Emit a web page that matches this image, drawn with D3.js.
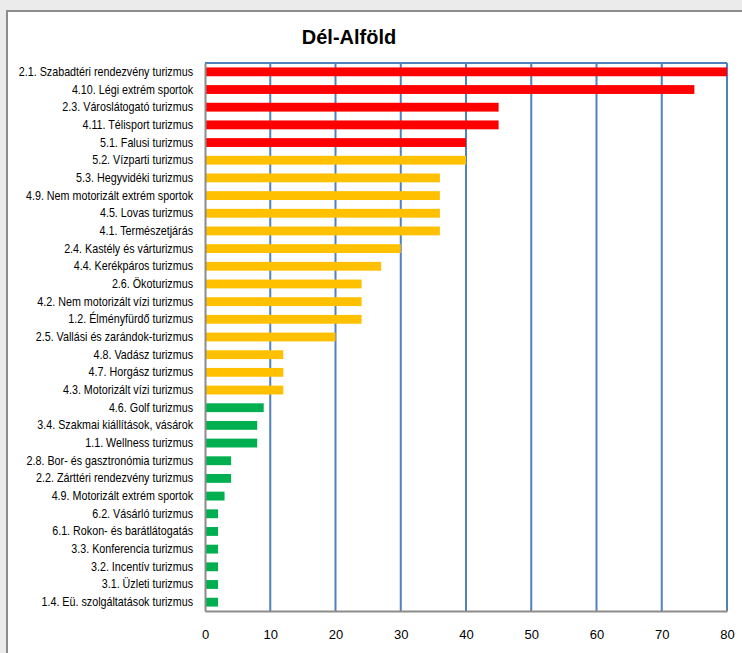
<!DOCTYPE html>
<html>
<head>
<meta charset="utf-8">
<title>Dél-Alföld</title>
<script src="https://cdn.jsdelivr.net/npm/d3@7"></script>
<style>
  html, body { margin: 0; padding: 0; background: #ebebeb; }
  svg { display: block; }
</style>
</head>
<body>
<div id="chart"></div>
<script>
const title = "Dél-Alföld"

const categories = [
  "2.1. Szabadtéri rendezvény turizmus",
  "4.10. Légi extrém sportok",
  "2.3. Városlátogató turizmus",
  "4.11. Télisport turizmus",
  "5.1. Falusi turizmus",
  "5.2. Vízparti turizmus",
  "5.3. Hegyvidéki turizmus",
  "4.9.  Nem motorizált extrém sportok",
  "4.5. Lovas turizmus",
  "4.1. Természetjárás",
  "2.4. Kastély és várturizmus",
  "4.4. Kerékpáros turizmus",
  "2.6. Ökoturizmus",
  "4.2. Nem motorizált vízi turizmus",
  "1.2. Élményfürdő turizmus",
  "2.5. Vallási és zarándok-turizmus",
  "4.8. Vadász turizmus",
  "4.7. Horgász turizmus",
  "4.3. Motorizált vízi turizmus",
  "4.6. Golf turizmus",
  "3.4. Szakmai kiállítások, vásárok",
  "1.1. Wellness turizmus",
  "2.8. Bor- és gasztronómia turizmus",
  "2.2. Zárttéri rendezvény turizmus",
  "4.9. Motorizált extrém sportok",
  "6.2. Vásárló turizmus",
  "6.1. Rokon- és barátlátogatás",
  "3.3. Konferencia turizmus",
  "3.2. Incentív turizmus",
  "3.1. Üzleti turizmus",
  "1.4. Eü. szolgáltatások turizmus"
]

const values = [80, 75, 45, 45, 40, 40, 36, 36, 36, 36, 30, 27, 24, 24, 24, 20, 12, 12, 12,
                9, 8, 8, 4, 4, 3, 2, 2, 2, 2, 2, 2]

const tiers = ["high", "high", "high", "high", "high",
               "mid", "mid", "mid", "mid", "mid", "mid", "mid", "mid", "mid", "mid", "mid", "mid", "mid", "mid",
               "low", "low", "low", "low", "low", "low", "low", "low", "low", "low", "low", "low"]

const xTicks = [0, 10, 20, 30, 40, 50, 60, 70, 80]

const rows = categories.map((c, i) => ({ name: c, value: values[i], tier: tiers[i] }))

const W = 742, H = 653
const plot = { left: 205, right: 727, top: 63, bottom: 611 }
const squeeze = 0.86   // narrow look for the category labels

const color = d3.scaleOrdinal()
  .domain(["high", "mid", "low"])
  .range(["#ff0000", "#ffc000", "#00b050"])

const x = d3.scaleLinear().domain([0, 80]).range([plot.left, plot.right])
const y = d3.scaleBand().domain(categories).range([plot.top, plot.bottom]).paddingInner(0.5).paddingOuter(0.25)

const svg = d3.select("#chart").append("svg")
  .attr("width", W)
  .attr("height", H)

svg.append("rect")
  .attr("width", W).attr("height", H)
  .attr("fill", "#ebebeb")

// chart area frame
svg.append("rect")
  .attr("x", 7).attr("y", 11)
  .attr("width", W + 10).attr("height", H + 10)
  .attr("fill", "#fff")
  .attr("stroke", "#8c8c8c")
  .attr("stroke-width", 2)

svg.append("text")
  .attr("x", 349).attr("y", 44)
  .attr("text-anchor", "middle")
  .style("font-family", "'Liberation Sans', Arial, sans-serif")
  .style("font-weight", "bold")
  .style("font-size", "20px")
  .text(title)

// vertical gridlines
svg.append("g")
  .selectAll("line")
  .data(xTicks.slice(1))
  .join("line")
  .attr("x1", d => x(d)).attr("x2", d => x(d))
  .attr("y1", plot.top).attr("y2", plot.bottom)
  .attr("stroke", "#4f81bd")
  .attr("stroke-width", 2)

// top border of plot area
svg.append("line")
  .attr("x1", plot.left).attr("x2", plot.right)
  .attr("y1", plot.top).attr("y2", plot.top)
  .attr("stroke", "#4f81bd")
  .attr("stroke-width", 2)

// bars
svg.append("g")
  .selectAll("rect")
  .data(rows)
  .join("rect")
  .attr("x", x(0) + 1)
  .attr("y", d => y(d.name))
  .attr("width", d => x(d.value) - x(0) - 1)
  .attr("height", y.bandwidth())
  .attr("fill", d => color(d.tier))

// left (category) axis
const yAxis = svg.append("g")
  .attr("transform", `translate(${plot.left},0)`)
  .call(d3.axisLeft(y).tickSize(0).tickPadding(12))
yAxis.select(".domain").attr("stroke", "#8c8c8c").attr("stroke-width", 2)
yAxis.selectAll("text")
  .style("font-family", "'Liberation Sans', Arial, sans-serif")
  .style("font-size", "12.5px")
  .attr("fill", "#000")
  .attr("x", -12 / squeeze)
  .attr("transform", `scale(${squeeze},1)`)

// bottom (value) axis
const xAxis = svg.append("g")
  .attr("transform", `translate(0,${plot.bottom})`)
  .call(d3.axisBottom(x).tickValues(xTicks).tickSize(0).tickPadding(19))
xAxis.select(".domain").attr("stroke", "#8c8c8c").attr("stroke-width", 2)
xAxis.selectAll("text")
  .style("font-family", "'Liberation Sans', Arial, sans-serif")
  .style("font-size", "13px")
  .attr("fill", "#000")
</script>
</body>
</html>
